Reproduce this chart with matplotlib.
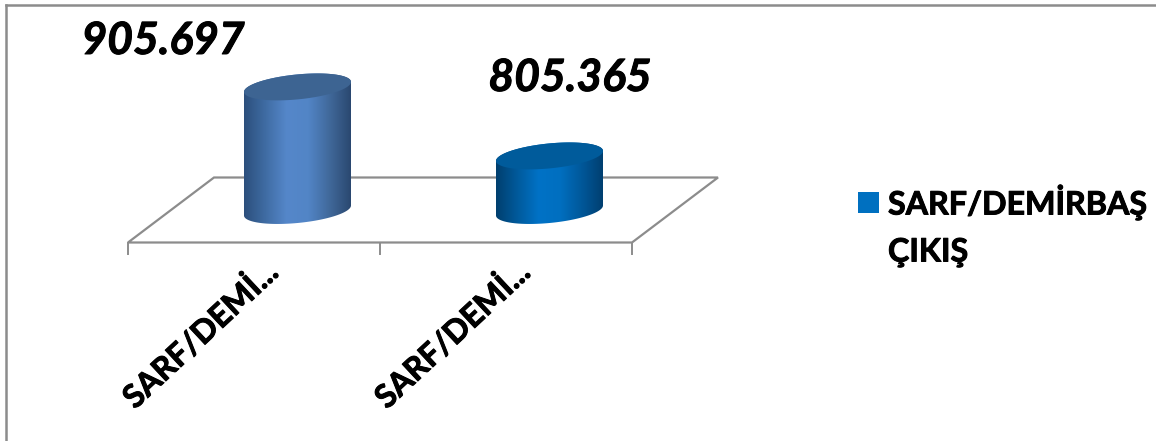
import numpy as np
import matplotlib
matplotlib.use('Agg')
import matplotlib.pyplot as plt
import matplotlib.patheffects as pe
from matplotlib.colors import LinearSegmentedColormap
from matplotlib.patches import Polygon, Rectangle

plt.rcParams['font.family'] = ['Lato', 'DejaVu Sans']

# Chart data
categories = ['SARF/DEMİ...', 'SARF/DEMİ...']
values = [905697, 805365]
value_labels = ['905.697', '805.365']
legend_label = 'SARF/DEMİRBAŞ\nÇIKIŞ'
side_colors = [['#2c4f7c', '#3f6ca3', '#5587ca', '#5285c6', '#41699b', '#2a4870'],
               ['#003f6e', '#005a9c', '#0072c6', '#006fc0', '#00589a', '#003f70']]
top_colors = ['#3d6492', '#005b9b']

W, H = 1156, 441
BASE = 726000      # value sitting on the floor
PER_PX = 1454.0    # value units per pixel
BASE_PX = 210.5    # pixel row of the cylinder base centre
GRID = '#8c8c8c'
# thickens the text a little, Lato Bold is lighter than the original font
THICK = [pe.withStroke(linewidth=0.7, foreground='black')]

fig = plt.figure(figsize=(W / 100, H / 100), dpi=100)
ax = fig.add_axes([0, 0, 1, 1])
ax.axis('off')
# x in category units (252 px each, category 0 at px 254 on the front edge)
ax.set_xlim((0 - 254) / 252, (W - 254) / 252)
ax.set_ylim(BASE - (H - BASE_PX) * PER_PX, BASE + BASE_PX * PER_PX)


def dx(px):
    return px / 252


def dy(px):
    return px * PER_PX


# floor, the y offsets are relative to the base row
front, back = -32, 33
x0, x1 = -0.5, 1.5
floor = Polygon([(x0, BASE + dy(front)), (x1, BASE + dy(front)),
                 (x1 + dx(86), BASE + dy(back)), (x0 + dx(86), BASE + dy(back))],
                closed=True, fill=False, edgecolor=GRID, linewidth=1.6, zorder=1)
ax.add_patch(floor)
for t in [-0.5, 0.5, 1.5]:
    ax.plot([t, t], [BASE + dy(front), BASE + dy(front - 11)], color=GRID, lw=1.4, zorder=1)

# chart border, left and top only
ax.plot([dx(6 - 254), dx(6 - 254)], [ax.get_ylim()[0], BASE + dy(BASE_PX - 5)], color=GRID, lw=1.8)
ax.plot([dx(6 - 254), dx(W - 254)], [BASE + dy(BASE_PX - 5)] * 2, color=GRID, lw=1.8)

# cylinders
a, b, shear = 53.5, 12.5, 5 / 53.5
t = np.linspace(0, 2 * np.pi, 200)
for i, val in enumerate(values):
    cx = i + dx(43.5)
    ex = a * np.cos(t)
    ey = b * np.sin(t) + shear * ex
    # side: lower half of the base ellipse joined to upper half of the top ellipse
    lower = np.linspace(np.pi, 2 * np.pi, 100)
    lx = a * np.cos(lower)
    ly = b * np.sin(lower) + shear * lx
    upper = np.linspace(0, np.pi, 100)
    ux = a * np.cos(upper)
    uy = b * np.sin(upper) + shear * ux
    outline = np.column_stack([
        np.r_[cx + dx(lx), cx + dx(ux)],
        np.r_[BASE + dy(ly), val + dy(uy)],
    ])
    side = Polygon(outline, closed=True, facecolor='none', edgecolor='none', zorder=2)
    ax.add_patch(side)
    cmap = LinearSegmentedColormap.from_list('side', side_colors[i])
    im = ax.imshow(np.linspace(0, 1, 256).reshape(1, -1), cmap=cmap, aspect='auto',
                   extent=[cx - dx(a), cx + dx(a), BASE - dy(20), val + dy(20)], zorder=2)
    im.set_clip_path(side)
    ax.add_patch(Polygon(np.column_stack([cx + dx(ex), val + dy(ey)]), closed=True,
                         facecolor=top_colors[i], edgecolor='none', zorder=3))

# value labels
ax.text(dx(163 - 254), BASE + dy(BASE_PX - 41), value_labels[0], fontsize=32, fontweight='bold',
        fontstyle='italic', ha='center', va='center', color='black', zorder=4, path_effects=THICK)
ax.text(dx(570 - 254), BASE + dy(BASE_PX - 78), value_labels[1], fontsize=32, fontweight='bold',
        fontstyle='italic', ha='center', va='center', color='black', zorder=4, path_effects=THICK)

# category labels
for i, c in enumerate(categories):
    ax.text(i + dx(8), BASE + dy(front - 12), c, rotation=43, rotation_mode='anchor',
            ha='right', va='top', fontsize=23, fontweight='bold', color='black', path_effects=THICK)

# legend
ax.add_patch(Rectangle((dx(858 - 254), BASE + dy(BASE_PX - 213)), dx(21), dy(21),
                       facecolor='#0070c0', edgecolor='none'))
ax.text(dx(888 - 254), BASE + dy(BASE_PX - 202), legend_label.split('\n')[0], fontsize=23.2,
        fontweight='bold', ha='left', va='center', color='black', path_effects=THICK)
ax.text(dx(888 - 254), BASE + dy(BASE_PX - 252), legend_label.split('\n')[1], fontsize=23.2,
        fontweight='bold', ha='left', va='center', color='black', path_effects=THICK)

fig.savefig('out.png', dpi=100)
